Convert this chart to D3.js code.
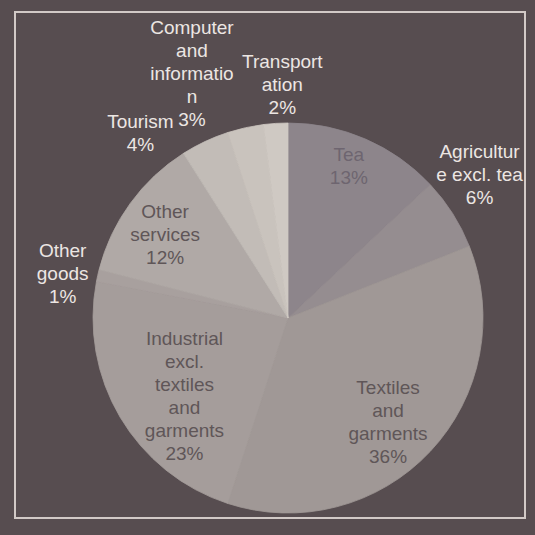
<!DOCTYPE html>
<html><head><meta charset="utf-8">
<script src="https://cdn.jsdelivr.net/npm/d3@7"></script>
<style>html,body{margin:0;padding:0;background:#574d50;overflow:hidden}</style>
</head><body><svg id="c" width="535" height="535"></svg>
<script>
// ---- data ----
const categories = ["Tea","Agriculture excl. tea","Textiles and garments","Industrial excl. textiles and garments","Other goods","Other services","Tourism","Computer and information","Transportation"];
const values = [13, 6, 36, 23, 1, 12, 4, 3, 2];
const labelLines = [["Tea"],["Agricultur","e excl. tea"],["Textiles","and","garments"],["Industrial","excl.","textiles","and","garments"],["Other","goods"],["Other","services"],["Tourism"],["Computer","and","informatio","n"],["Transport","ation"]];

// ---- styling / layout ----
const sliceColors = ["#8d858b","#958d90","#a09896","#a59d9b","#a8a09e","#b0a9a6","#c2bcb7","#c9c3bd","#cfc9c3"];
const W = 535, H = 535, cx = 288, cy = 318, R = 195;
const svg = d3.select("#c");
svg.append("rect").attr("width", W).attr("height", H).attr("fill", "#574d50");
svg.append("rect").attr("x", 15).attr("y", 12).attr("width", 510).attr("height", 506)
  .attr("fill", "none").attr("stroke", "#d2cac7").attr("stroke-width", 2);

const data = categories.map((c, i) => ({cat: c, value: values[i], lines: labelLines[i], i}));
const pie = d3.pie().value(d => d.value).sort(null);
const arc = d3.arc().innerRadius(0).outerRadius(R);
const arcs = pie(data);
const g = svg.append("g").attr("transform", `translate(${cx},${cy})`);
g.selectAll("path").data(arcs).join("path")
  .attr("d", arc).attr("fill", d => sliceColors[d.data.i])
  .attr("stroke", d => sliceColors[d.data.i]).attr("stroke-width", 0.8).attr("stroke-linejoin", "round");

// label placement: inside for large slices, outside for small ones, nudged like the original
const nudge = {0:[2,-16],1:[-6,-18],2:[-8,3],3:[24,3],4:[3,7],5:[-3,4],6:[-48,27],7:[-45,-16],8:[9,0]};
const LH = 23;
arcs.forEach(a => {
  const inside = a.data.value >= 10;
  const rr = inside ? R * 0.76 : R * 1.2;
  const mid = (a.startAngle + a.endAngle) / 2;
  const n = nudge[a.data.i] || [0,0];
  const x = Math.sin(mid) * rr + n[0];
  const y = -Math.cos(mid) * rr + n[1];
  const lines = a.data.lines.concat([d3.format(".0%")(a.value / d3.sum(values))]);
  const t = g.append("text").attr("text-anchor", "middle")
    .attr("font-family", "'Liberation Sans', Arial, sans-serif").attr("font-size", 19)
    .attr("fill", inside ? (a.data.i === 0 ? "#6e6570" : "#5f5658") : "#ece6e3");
  lines.forEach((l, k) => {
    t.append("tspan").attr("x", x).attr("y", y + (k - (lines.length - 1) / 2) * LH)
      .attr("dominant-baseline", "central").text(l);
  });
});
</script></body></html>
